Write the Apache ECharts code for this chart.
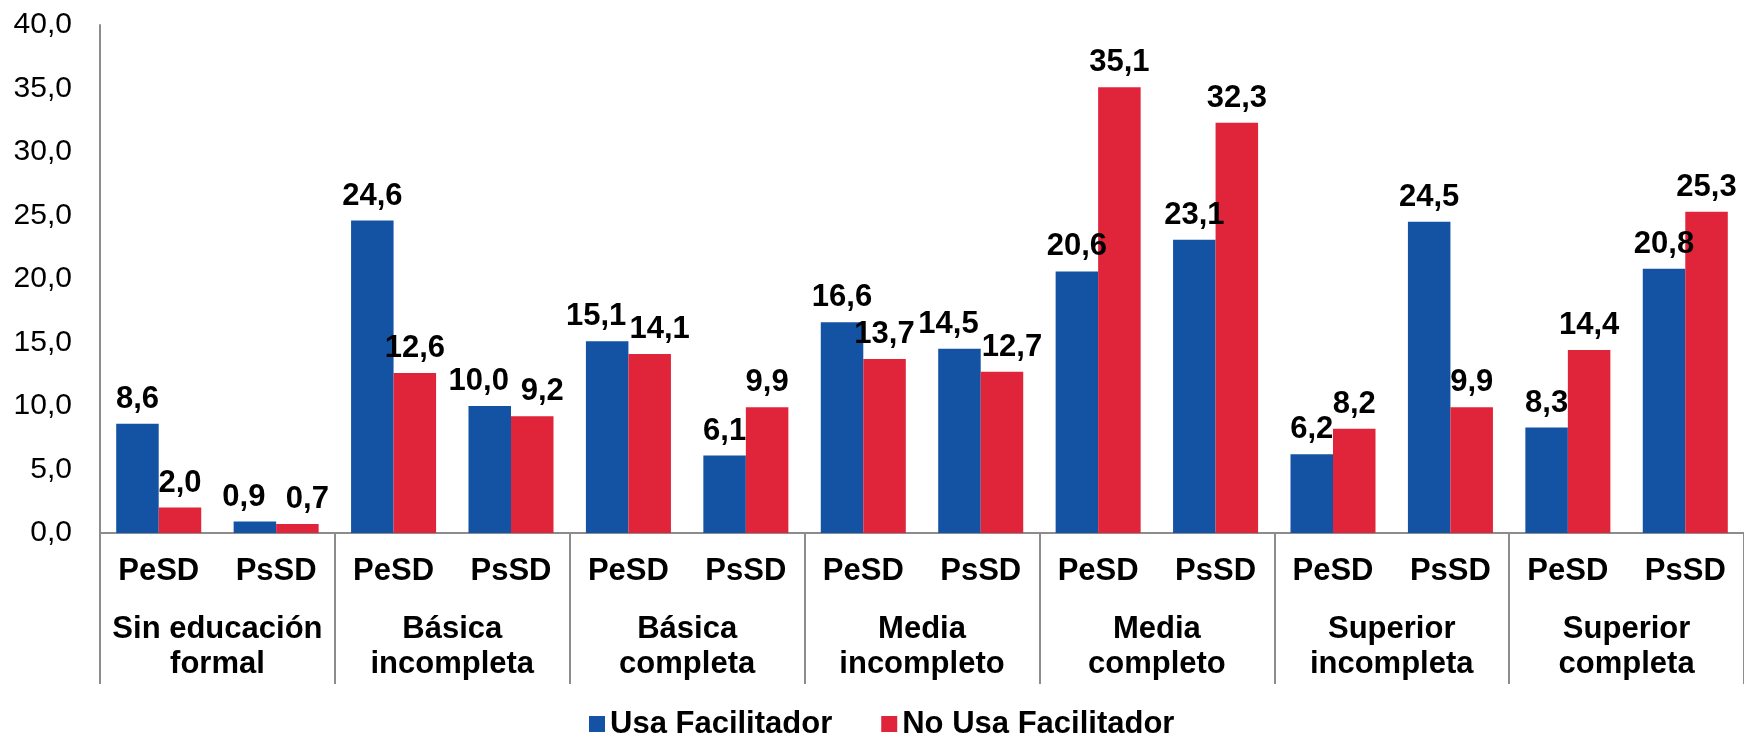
<!DOCTYPE html>
<html>
<head>
<meta charset="utf-8">
<script src="https://cdn.jsdelivr.net/npm/echarts@6/dist/echarts.min.js"></script>
<style>html,body{margin:0;padding:0;background:#fff}#c{width:1744px;height:736px}</style>
</head>
<body>
<div id="c"></div>
<script>
const subCategories = ['PeSD','PsSD','PeSD','PsSD','PeSD','PsSD','PeSD','PsSD','PeSD','PsSD','PeSD','PsSD','PeSD','PsSD'];
const groups = ['Sin educación\nformal','Básica\nincompleta','Básica\ncompleta','Media\nincompleto','Media\ncompleto','Superior\nincompleta','Superior\ncompleta'];
const usaFacilitador = [8.6,0.9,24.6,10.0,15.1,6.1,16.6,14.5,20.6,23.1,6.2,24.5,8.3,20.8];
const noUsaFacilitador = [2.0,0.7,12.6,9.2,14.1,9.9,13.7,12.7,35.1,32.3,8.2,9.9,14.4,25.3];
const seriesNames = ['Usa Facilitador','No Usa Facilitador'];
const yMin = 0, yMax = 40, yStep = 5;

const FONT = '"Liberation Sans", Arial, sans-serif';
const fmt = v => Number(v).toFixed(1).replace('.', ',');
const chart = echarts.init(document.getElementById('c'), null, {renderer:'canvas'});
const labelStyle = {show:true, position:'top', distance:9, formatter:p=>fmt(p.value), fontFamily:FONT, fontWeight:'bold', fontSize:31, color:'#000'};
const allSeries = [usaFacilitador, noUsaFacilitador];
// push apart the two labels of a pair when they would collide
function labelLayout(params){
  const i = params.dataIndex, s = params.seriesIndex;
  const a = chart.convertToPixel({yAxisIndex:0}, allSeries[0][i]);
  const b = chart.convertToPixel({yAxisIndex:0}, allSeries[1][i]);
  if (Math.abs(a - b) < 24) {
    return {dx: s === 0 ? -11 : 10};
  }
  return {};
}
chart.setOption({
  animation:false,
  backgroundColor:'#fff',
  grid:{left:100, right:0, top:25, bottom:203, containLabel:false},
  legend:{
    data:seriesNames, left:589, top:708, padding:0, itemWidth:16, itemHeight:16, itemGap:49,
    icon:'rect', textStyle:{fontFamily:FONT, fontWeight:'bold', fontSize:31, lineHeight:32, color:'#000'}
  },
  xAxis:[
    {type:'category', data:subCategories, position:'bottom',
     axisLine:{lineStyle:{color:'#8c8c8c', width:2}}, axisTick:{show:false},
     axisLabel:{interval:0, margin:23, fontFamily:FONT, fontWeight:'bold', fontSize:31, color:'#000'}},
    {type:'category', data:groups, position:'bottom', offset:0,
     axisLine:{show:false},
     axisTick:{show:true, length:151, interval:0, lineStyle:{color:'#8c8c8c', width:2}},
     axisLabel:{interval:0, margin:79, lineHeight:35, fontFamily:FONT, fontWeight:'bold', fontSize:31, color:'#000'}}
  ],
  yAxis:{type:'value', min:yMin, max:yMax, interval:yStep,
    axisLine:{show:true, lineStyle:{color:'#8c8c8c', width:2}}, axisTick:{show:false}, splitLine:{show:false},
    axisLabel:{formatter:fmt, margin:28, fontFamily:FONT, fontSize:30, color:'#000'}},
  series:[
    {name:seriesNames[0], type:'bar', data:usaFacilitador, barGap:'0%', barCategoryGap:'27.6%',
     itemStyle:{color:'#1453A4'}, label:labelStyle, labelLayout:labelLayout},
    {name:seriesNames[1], type:'bar', data:noUsaFacilitador, barGap:'0%', barCategoryGap:'27.6%',
     itemStyle:{color:'#E02439'}, label:labelStyle, labelLayout:labelLayout}
  ]
});
</script>
</body>
</html>
